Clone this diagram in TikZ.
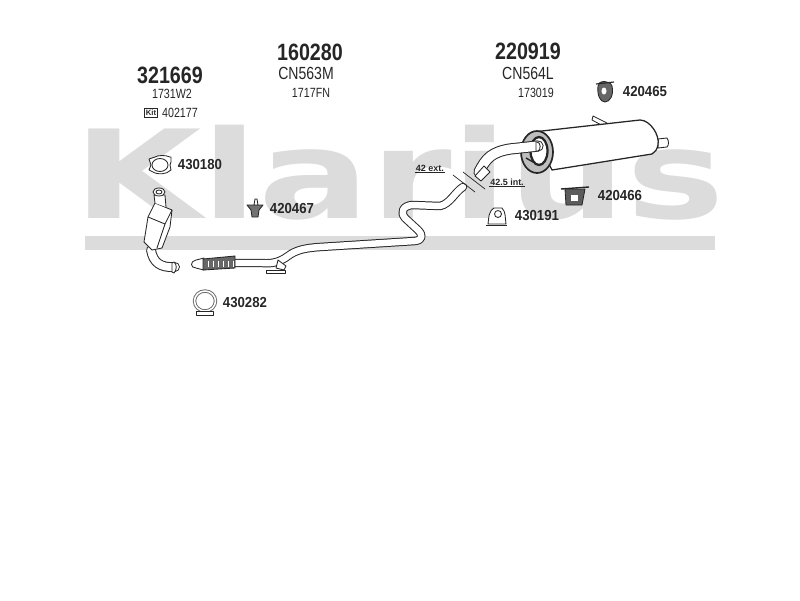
\documentclass[tikz,border=0pt]{standalone}
\usepackage{fontspec}
\setmainfont{Liberation Sans}
\newfontfamily\brandfont{DejaVu Sans}
\usetikzlibrary{calc}
\definecolor{wmgray}{HTML}{DCDCDC}
\definecolor{ink}{HTML}{262626}
\tikzset{
	partno/.style={font=\bfseries\fontsize{14}{14}\selectfont, text=ink, inner sep=0pt, yscale=1.2},
	refno/.style={font=\fontsize{10}{10}\selectfont, text=ink, inner sep=0pt, yscale=1.25},
	smallno/.style={font=\fontsize{7.6}{8}\selectfont, text=ink, inner sep=0pt, yscale=1.25},
	fitno/.style={font=\bfseries\fontsize{9.4}{10}\selectfont, text=ink, inner sep=0pt, yscale=1.1},
	sizeno/.style={font=\bfseries\fontsize{6.4}{7}\selectfont, text=ink, inner sep=0.6pt},
	outline/.style={draw=ink, line width=0.6pt, line join=round},
	pipeout/.style={draw=ink, line width=5.6pt, line join=round, line cap=round},
	pipein/.style={draw=white, line width=4.2pt, line join=round, line cap=round},
}
\def\pipepath[#1]#2;{\draw[pipeout,line width=#1pt] #2; \draw[pipein,line width=#1pt-1.4pt] #2;}
\begin{document}
\begin{tikzpicture}[x=0.25mm,y=-0.25mm]
	\useasboundingbox (0,0) rectangle (800,600);
	%%%%% watermark %%%%%
	\node[anchor=base west, inner sep=0pt, text=wmgray, xscale=1.28, yscale=0.95, font=\brandfont\bfseries\fontsize{92}{92}\selectfont] (brand) at (73,218) {Klarius};
	\fill[wmgray] (85,236) rectangle (715,250);

	%%%%% headings %%%%%
	\node[partno] (part1) at (170,75) {321669};
	\node[smallno] (ref1) at (172,94) {1731W2};
	\node[smallno] (kit1) at (180,113) {402177};
	\node[draw=ink, line width=0.6pt, inner sep=1pt, font=\bfseries\fontsize{5.5}{6}\selectfont, text=ink] (kitbox) at (151,113) {Kit};

	\node[partno] (part2) at (310,52) {160280};
	\node[refno] (type2) at (306,73) {CN563M};
	\node[smallno] (ref2) at (311,93) {1717FN};

	\node[partno] (part3) at (528,51) {220919};
	\node[refno] (type3) at (528,73) {CN564L};
	\node[smallno] (ref3) at (536,93) {173019};

	%%%%% catalytic converter %%%%%
	\pipepath[7]{(151,250) .. controls (153,262) and (160,268) .. (175,267)};
	\draw[outline, fill=white] (174,262) .. controls (177,264) and (177,270) .. (174,273) -- (172,272) -- (172,263) -- cycle;
	\draw[outline, fill=white] (155,203) -- (172,210) -- (170,227) -- (162,248) -- (152,250) -- (144,242) -- (148,217) -- cycle;
	\draw[outline] (148,217) -- (165,224) -- (172,210);
	\draw[outline] (165,224) -- (157,248);
	\draw[outline, fill=white] (155,203) -- (154,195) -- (165,195) -- (166,207);
	\draw[outline, fill=white] (159,192) ellipse (6 and 4);
	\draw[outline] (159,192) ellipse (3 and 2);

	%%%%% gaskets and clamps %%%%%
	\draw[outline, fill=white] (149,159) -- (155,157) .. controls (158,155) and (166,155) .. (170,157) -- (171,157) -- (171,162) -- (170,165) -- (171,170) .. controls (166,175) and (158,174) .. (155,173) -- (149,170) -- (151,165) -- cycle;
	\draw[outline] (160,165) ellipse (8 and 6.5);
	\node[fitno] (fit1) at (200,165) {430180};

	\draw[ink!70, line width=2.4pt] (205,301) ellipse (10.5 and 10);
	\draw[white, line width=1.1pt] (205,301) ellipse (10.5 and 10);
	\draw[outline, fill=white] (196,311) rectangle (213,315);
	\node[fitno] (fit2) at (245,303) {430282};

	\draw[outline, fill=ink!65] (247,205) -- (263,205) -- (259,210) -- (258,217) -- (252,217) -- (251,210) -- cycle;
	\draw[outline, fill=white] (254,205) -- (255,199) -- (257,199) -- (258,205) -- cycle;
	\node[fitno] (fit3) at (292,208) {420467};

	%%%%% front pipe %%%%%
	\draw[outline, fill=white] (266,270) rectangle (285,273);
	\pipepath[6]{(235,263) -- (262,263) .. controls (272,264) and (280,262) .. (288,256) .. controls (296,250) and (305,248) .. (320,247) -- (415,241) .. controls (423,240) and (423,235) .. (418,230) -- (405,218) .. controls (400,212) and (403,206) .. (412,205) -- (440,206) .. controls (450,204) and (455,192) .. (463,187)};
	\draw[outline, fill=white] (278,260) -- (286,266) -- (284,270) -- (276,268) -- cycle;
	\draw[outline, fill=white] (196,260) -- (204,258) -- (204,270) -- (196,268) .. controls (190,268) and (190,261) .. (196,260) -- cycle;
	\draw[ink, fill=ink!70, line width=0.6pt] (203,259) -- (235,256) -- (235,268) -- (203,270) -- cycle;
	\foreach \gapx in {208,213,...,233} \draw[white, line width=0.5pt] (\gapx,261) -- (\gapx,267);

	%%%%% joint %%%%%
	\draw[ink, line width=0.5pt] (453,175) -- (475,192);
	\draw[ink, line width=0.5pt] (463,172) -- (485,189);
	\node[sizeno, anchor=center] (int) at (507,182) {42.5 int.};
	\draw[ink, line width=0.7pt] (int.south west) -- (int.south east);
	\node[sizeno, anchor=center] (ext) at (430,168) {42 ext.};
	\draw[ink, line width=0.7pt] (ext.south west) -- (ext.south east);

	%%%%% rear silencer %%%%%
	\draw[outline, fill=white] (593,116) -- (607,123) -- (605,127) -- (592,120) -- cycle;
	\draw[outline, fill=white] (658,139) -- (667,138) .. controls (669,141) and (669,145) .. (667,147) -- (658,148) -- cycle;
	\draw[outline, fill=white, line width=0.9pt] (533,132) -- (640,120) .. controls (650,120) and (660,135) .. (658,145) .. controls (657,150) and (655,152) .. (652,154) -- (552,170) -- cycle;
	\draw[ink, fill=ink!30, line width=1.2pt] (537,152) ellipse (16 and 21);
	\draw[outline, fill=white, line width=1.6pt] (539,151) ellipse (8.5 and 14);
	\pipepath[8]{(479,172) .. controls (486,158) and (492,152) .. (510,149) -- (538,146)};
	\draw[outline, fill=white] (475,176) -- (484,166) -- (490,172) -- (481,181) -- cycle;
	\draw[outline, fill=white] (537,142) .. controls (541,142) and (541,150) .. (538,151) -- (536,151) -- (536,142) -- cycle;
	\draw[ink, line width=1pt] (526,158) -- (533,162);

	%%%%% hangers %%%%%
	\draw[outline, fill=ink!70] (598,86) .. controls (598,80) and (610,80) .. (612,86) .. controls (614,95) and (610,102) .. (605,102) .. controls (600,102) and (597,95) .. (598,86) -- cycle;
	\fill[white] (604,91) ellipse (2.5 and 3.5);
	\draw[ink, line width=0.8pt] (596,84) -- (614,82);
	\node[fitno] (fit4) at (645,91) {420465};

	\draw[ink, line width=1pt] (561,189) -- (589,187);
	\draw[outline, fill=ink!75] (565,189) -- (585,189) -- (582,205) -- (566,205) -- cycle;
	\fill[white] (571,195) rectangle (578,201);
	\node[fitno] (fit5) at (620,195) {420466};

	\draw[outline, fill=white] (494,208) .. controls (495,208) and (504,208) .. (502,208) .. controls (506,212) and (505,218) .. (506,224) -- (488,224) .. controls (489,218) and (488,212) .. (494,208) -- cycle;
	\draw[outline, fill=white] (498,214) circle (3.5);
	\draw[outline] (486,225) -- (507,225);
	\node[fitno] (fit6) at (537,216) {430191};
\end{tikzpicture}
\end{document}
